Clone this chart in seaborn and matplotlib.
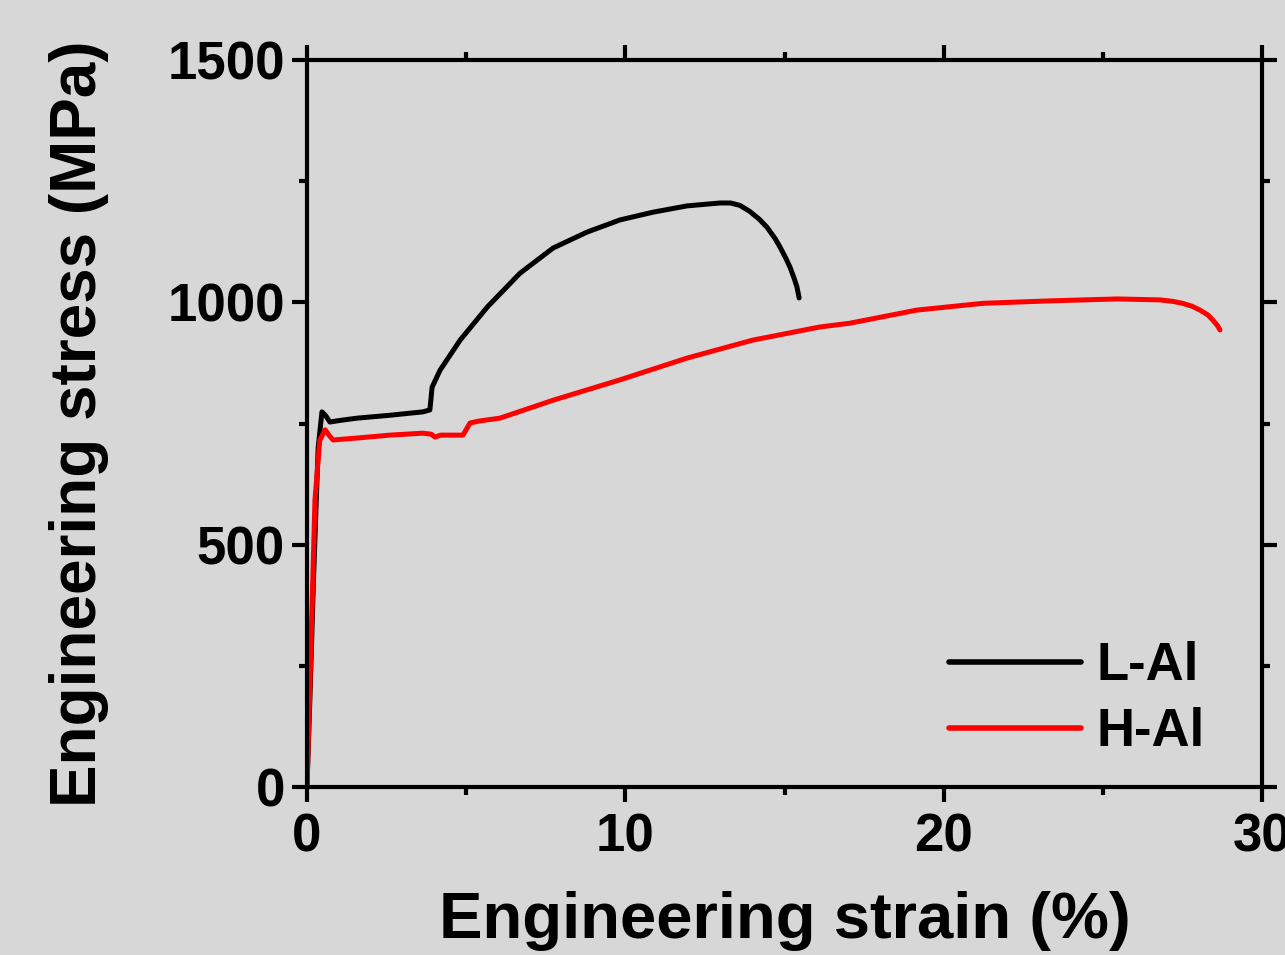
import numpy as np
import pandas as pd
import matplotlib
matplotlib.use("Agg")
import matplotlib.pyplot as plt
import seaborn as sns
from matplotlib.ticker import MultipleLocator

# Tensile curves: engineering strain (%) vs engineering stress (MPa)
l_al_strain = [0.0, 0.10, 0.20, 0.35, 0.47, 0.60, 0.72, 1.00, 1.57, 2.60, 3.64, 3.86,
               3.93, 4.18, 4.81, 5.66, 6.69, 7.73, 8.80, 9.83, 10.87, 11.94, 12.98,
               13.30, 13.60, 13.90, 14.20, 14.45, 14.70, 14.86, 15.05, 15.17, 15.30,
               15.39, 15.46]
l_al_stress = [0, 200, 420, 700, 774, 765, 753, 756, 761, 767, 774, 778,
               825, 860, 922, 990, 1060, 1112, 1145, 1170, 1186, 1199, 1205,
               1205, 1200, 1188, 1172, 1155, 1132, 1114, 1090, 1073, 1050,
               1032, 1009]

h_al_strain = [0.0, 0.10, 0.25, 0.40, 0.57, 0.70, 0.82, 1.57, 2.60, 3.64, 3.90, 4.02,
               4.20, 4.90, 5.12, 5.40, 6.06, 7.73, 9.83, 11.94, 14.00, 16.10, 17.06,
               19.16, 21.24, 23.34, 25.45, 26.80, 27.20, 27.50, 27.80, 28.05, 28.30,
               28.46, 28.60, 28.68]
h_al_stress = [0, 230, 592, 715, 737, 725, 716, 720, 726, 730, 728, 722,
               726, 726, 751, 755, 761, 798, 840, 885, 922, 949, 957,
               984, 998, 1003, 1007, 1005, 1002, 998, 992, 984, 974,
               963, 952, 943]

sample_names = ["L-Al", "H-Al"]
line_colors = ["#000000", "#ff0000"]

x_ticks = [0, 10, 20, 30]
y_ticks = [0, 500, 1000, 1500]

df = pd.concat([
    pd.DataFrame({"strain": l_al_strain, "stress": l_al_stress, "sample": sample_names[0]}),
    pd.DataFrame({"strain": h_al_strain, "stress": h_al_stress, "sample": sample_names[1]}),
], ignore_index=True)

sns.set_theme(style="ticks")
plt.rcParams["font.family"] = ["Liberation Sans", "DejaVu Sans"]
plt.rcParams["font.weight"] = "bold"
plt.rcParams["text.color"] = "black"
plt.rcParams["axes.labelcolor"] = "black"
plt.rcParams["xtick.color"] = "black"
plt.rcParams["ytick.color"] = "black"

bg = "#d7d7d7"
fig = plt.figure(figsize=(12.85, 9.55), dpi=100, facecolor=bg)
ax = fig.add_axes([307 / 1285, 1 - 787 / 955, (1262 - 307) / 1285, (787 - 60) / 955])
ax.set_facecolor(bg)

sns.lineplot(data=df, x="strain", y="stress", hue="sample", hue_order=sample_names,
             palette=dict(zip(sample_names, line_colors)), sort=False,
             estimator=None, linewidth=3.6, ax=ax, legend=True)

ax.set_xlim(0, 30)
ax.set_ylim(0, 1500)
ax.set_xticks(x_ticks)
ax.set_yticks(y_ticks)
ax.xaxis.set_minor_locator(MultipleLocator(5))
ax.yaxis.set_minor_locator(MultipleLocator(250))

for s in ax.spines.values():
    s.set_linewidth(3.0)
    s.set_color("black")

ax.tick_params(which="major", direction="out", length=11, width=3.0, colors="black",
               labelsize=38, top=True, right=True, labeltop=False, labelright=False)
ax.tick_params(axis="x", which="major", pad=7)
ax.tick_params(axis="y", which="major", pad=5)
ax.tick_params(which="minor", direction="out", length=6, width=3.0, colors="black",
               top=True, right=True)
for lab in ax.get_xticklabels() + ax.get_yticklabels():
    lab.set_fontweight("bold")

ax.set_xlabel("Engineering strain (%)", fontsize=47, fontweight="bold", labelpad=21,
              color="black")
ax.set_ylabel("Engineering stress (MPa)", fontsize=46, fontweight="bold", labelpad=42,
              color="black")

leg = ax.legend(loc="lower right", bbox_to_anchor=(0.962, 0.012), frameon=False,
                fontsize=38, handlelength=2.5, handletextpad=0.3, labelspacing=0.3,
                borderaxespad=0)
for t in leg.get_texts():
    t.set_fontweight("bold")
    t.set_color("black")
for h in leg.get_lines():
    h.set_linewidth(4)

fig.savefig("out.png", dpi=100, facecolor=bg)
